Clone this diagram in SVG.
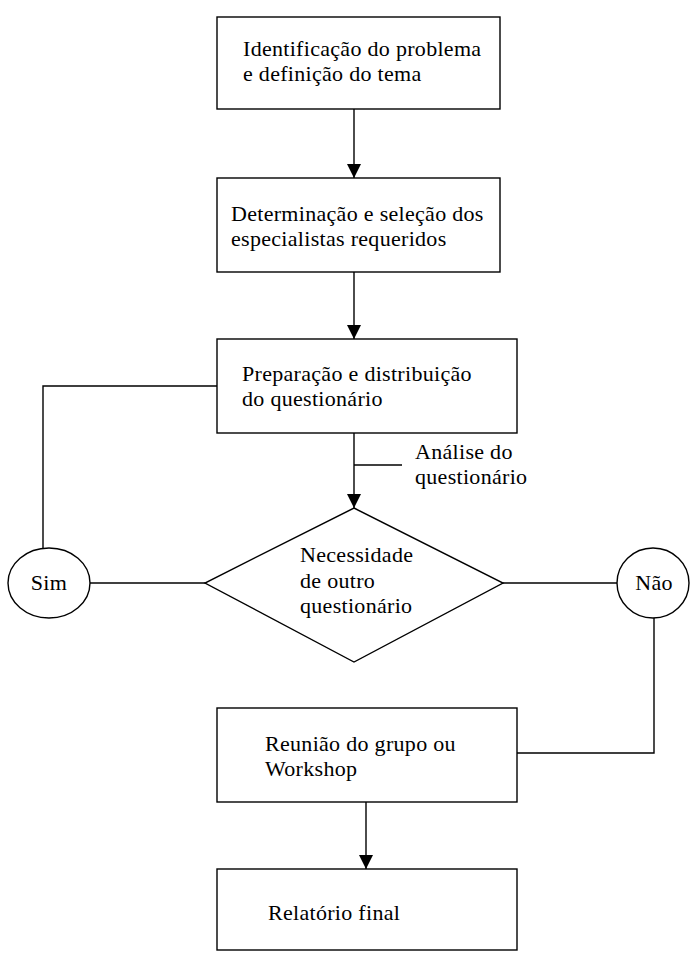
<svg xmlns="http://www.w3.org/2000/svg" width="694" height="958" viewBox="0 0 694 958">
<style>
.box{fill:#fff;stroke:#000;stroke-width:1.4}
.ln{fill:none;stroke:#000;stroke-width:1.4}
.t{font-family:'Liberation Serif','DejaVu Serif',serif;font-size:22px;letter-spacing:0.3px;fill:#000}
</style>
<defs>
<marker id="arr" viewBox="0 0 14 14" refX="14" refY="7" markerWidth="14" markerHeight="14" markerUnits="userSpaceOnUse" orient="auto">
<path d="M0,0 L14,7 L0,14 Z" fill="#000"/>
</marker>
</defs>
<rect width="694" height="958" fill="#fff"/>
<g id="connectors">
<line class="ln" x1="354" y1="109" x2="354" y2="178" marker-end="url(#arr)"/>
<line class="ln" x1="354" y1="272" x2="354" y2="339" marker-end="url(#arr)"/>
<line class="ln" x1="354" y1="433" x2="354" y2="508" marker-end="url(#arr)"/>
<line class="ln" x1="354" y1="465" x2="402" y2="465"/>
<polyline class="ln" points="217,386 43,386 43,548"/>
<line class="ln" x1="90" y1="583" x2="205" y2="583"/>
<line class="ln" x1="503" y1="583" x2="617" y2="583"/>
<polyline class="ln" points="654,618 654,753 517,753"/>
<line class="ln" x1="366" y1="802" x2="366" y2="869" marker-end="url(#arr)"/>
</g>
<g id="n1">
<rect class="box" x="217" y="17" width="283" height="92"/>
<text class="t" x="243" y="56" font-family="Liberation Serif, serif">Identificação do problema</text>
<text class="t" x="243" y="81" font-family="Liberation Serif, serif">e definição do tema</text>
</g>
<g id="n2">
<rect class="box" x="217" y="178" width="283" height="94"/>
<text class="t" x="231" y="221">Determinação e seleção dos</text>
<text class="t" x="231" y="246">especialistas requeridos</text>
</g>
<g id="n3">
<rect class="box" x="217" y="339" width="300" height="94"/>
<text class="t" x="242" y="381">Preparação e distribuição</text>
<text class="t" x="242" y="406">do questionário</text>
</g>
<g id="label">
<text class="t" x="415" y="459">Análise do</text>
<text class="t" x="415" y="484">questionário</text>
</g>
<g id="n4">
<polygon class="box" points="354,508 503,583 354,662 205,583"/>
<text class="t" x="300" y="562">Necessidade</text>
<text class="t" x="300" y="588">de outro</text>
<text class="t" x="300" y="613">questionário</text>
</g>
<g id="sim">
<ellipse class="box" cx="49" cy="583" rx="41" ry="35"/>
<text class="t" x="49" y="590" text-anchor="middle">Sim</text>
</g>
<g id="nao">
<ellipse class="box" cx="653" cy="583" rx="36" ry="35"/>
<text class="t" x="654" y="590" text-anchor="middle">Não</text>
</g>
<g id="n5">
<rect class="box" x="217" y="708" width="300" height="94"/>
<text class="t" x="265" y="751">Reunião do grupo ou</text>
<text class="t" x="265" y="776">Workshop</text>
</g>
<g id="n6">
<rect class="box" x="217" y="869" width="300" height="81"/>
<text class="t" x="268" y="920">Relatório final</text>
</g>
</svg>
